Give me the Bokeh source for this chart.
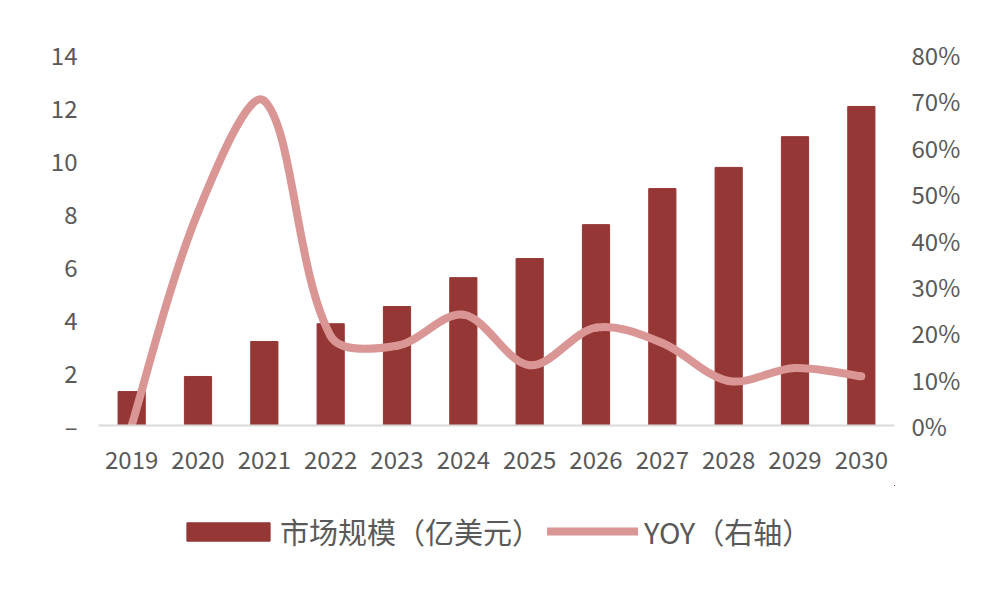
import math
from bokeh.plotting import figure
from bokeh.layouts import column
from bokeh.models import (Range1d, LinearAxis, FixedTicker, Legend, LegendItem,
                          ColumnDataSource)
from bokeh.embed import file_html
from bokeh.resources import INLINE

years = ["2019", "2020", "2021", "2022", "2023", "2024", "2025", "2026",
         "2027", "2028", "2029", "2030"]
market = [1.28, 1.85, 3.17, 3.84, 4.49, 5.58, 6.30, 7.58, 8.94, 9.74, 10.9, 12.04]
yoy = [0.0, 46.0, 70.0, 19.3, 17.2, 23.9, 13.0, 21.1, 17.8, 9.6, 12.4, 10.6]

left_ticks = [0, 2, 4, 6, 8, 10, 12, 14]
right_ticks = [0, 10, 20, 30, 40, 50, 60, 70, 80]
legend_labels = ["市场规模（亿美元）", "YOY（右轴）"]

BAR = "#953735"
LINE = "#D99694"
TXT = "#595959"
FONT = "Noto Sans CJK SC"

W = 973
H2 = 90                    # legend strip height
H = 575 - H2               # main chart height
BL, BR, BT = 98, 79, 54
BB = H - 425
FW, FH = W - BL - BR, H - BT - BB

xs = list(range(len(years)))

p = figure(width=W, height=H, output_backend="svg", toolbar_location=None,
           x_range=Range1d(-0.5, len(years) - 0.5), y_range=Range1d(0, 14),
           min_border_left=BL, min_border_right=BR, min_border_top=BT,
           min_border_bottom=BB)
p.outline_line_color = None
p.grid.visible = False
p.background_fill_color = "white"
p.border_fill_color = "white"
p.extra_y_ranges = {"pct": Range1d(0, 80)}

bar_style = dict(fill_color=BAR, line_color=BAR)
line_style = dict(line_color=LINE, line_width=8, line_cap="round")

p.vbar(x=xs, top=market, width=0.41, **bar_style)

# smoothed YOY line: cubic Bezier segments through the data points,
# tangents weighted by neighbouring chord lengths (spreadsheet-style smoothing)
sx = FW / len(years)
sy = FH / 80.0
n = len(yoy)
P = [(xs[i] * sx, yoy[i] * sy) for i in range(n)]

def dist(a, b):
    return math.hypot(a[0] - b[0], a[1] - b[1])

ctrl_in, ctrl_out = [], []
for i in range(n):
    a = P[i - 1] if i > 0 else P[i]
    b = P[i + 1] if i < n - 1 else P[i]
    d = (b[0] - a[0], b[1] - a[1])
    lp = dist(a, P[i]) if i > 0 else None
    ln = dist(P[i], b) if i < n - 1 else None
    if lp is None:
        lp = ln
    if ln is None:
        ln = lp
    s = lp + ln
    fo = (1 / 3.0) * ln / s
    fi = (1 / 3.0) * lp / s
    ctrl_out.append((P[i][0] + d[0] * fo, P[i][1] + d[1] * fo))
    ctrl_in.append((P[i][0] - d[0] * fi, P[i][1] - d[1] * fi))

seg = dict(x0=[], y0=[], x1=[], y1=[], cx0=[], cy0=[], cx1=[], cy1=[])
for i in range(n - 1):
    seg["x0"].append(xs[i]); seg["y0"].append(yoy[i])
    seg["x1"].append(xs[i + 1]); seg["y1"].append(yoy[i + 1])
    seg["cx0"].append(ctrl_out[i][0] / sx); seg["cy0"].append(ctrl_out[i][1] / sy)
    seg["cx1"].append(ctrl_in[i + 1][0] / sx); seg["cy1"].append(ctrl_in[i + 1][1] / sy)
src = ColumnDataSource(seg)
p.bezier(x0="x0", y0="y0", x1="x1", y1="y1", cx0="cx0", cy0="cy0",
         cx1="cx1", cy1="cy1", source=src, y_range_name="pct", **line_style)

# axes
p.xaxis.ticker = FixedTicker(ticks=xs)
p.xaxis.major_label_overrides = {i: y for i, y in enumerate(years)}
p.xaxis.axis_line_color = "#D9D9D9"
p.xaxis.axis_line_width = 2
p.xaxis.major_tick_line_color = None
p.xaxis.major_tick_out = 0
p.xaxis.minor_tick_line_color = None
p.xaxis.major_label_standoff = 25
p.xaxis.major_label_text_font = FONT
p.xaxis.major_label_text_font_size = "24px"
p.xaxis.major_label_text_color = TXT

p.yaxis.ticker = FixedTicker(ticks=left_ticks)
p.yaxis.major_label_overrides = {0: "–"}
p.yaxis.axis_line_color = None
p.yaxis.major_tick_line_color = None
p.yaxis.major_tick_out = 0
p.yaxis.minor_tick_line_color = None
p.yaxis.major_label_standoff = 21
p.yaxis.major_label_text_font = FONT
p.yaxis.major_label_text_font_size = "24px"
p.yaxis.major_label_text_color = TXT

ra = LinearAxis(y_range_name="pct", ticker=FixedTicker(ticks=right_ticks))
ra.major_label_overrides = {v: f"{v}%" for v in right_ticks}
ra.axis_line_color = None
ra.major_tick_line_color = None
ra.major_tick_out = 0
ra.minor_tick_line_color = None
ra.major_label_standoff = 17
ra.major_label_text_font = FONT
ra.major_label_text_font_size = "24px"
ra.major_label_text_color = TXT
p.add_layout(ra, "right")

# legend strip (separate figure below the chart); its renderers carry the same
# series but lie far outside this strip's visible ranges, so only the legend shows
p2 = figure(width=W, height=H2, output_backend="svg", toolbar_location=None,
            x_axis_type=None, y_axis_type=None,
            x_range=Range1d(-1000, -999), y_range=Range1d(-1000, -999),
            min_border=0, min_border_left=0, min_border_right=0,
            min_border_top=0, min_border_bottom=0)
p2.outline_line_color = None
p2.grid.visible = False
p2.background_fill_color = "white"
p2.border_fill_color = "white"
lb = p2.vbar(x=xs, top=market, width=0.41, **bar_style)
ll = p2.line(x=xs, y=yoy, **line_style)

common = dict(orientation="horizontal", label_height=30, padding=0, margin=0,
              spacing=0, border_line_color=None, background_fill_alpha=0,
              label_text_font=FONT, label_text_font_size="29px",
              label_text_color=TXT)
leg_a = Legend(items=[LegendItem(label=legend_labels[0], renderers=[lb])],
               location=(78, 23), glyph_width=104, glyph_height=23,
               label_standoff=0, **common)
leg_b = Legend(items=[LegendItem(label=legend_labels[1], renderers=[ll])],
               location=(449, 23), glyph_width=91, glyph_height=18,
               label_standoff=6, **common)
p2.add_layout(leg_a, "center")
p2.add_layout(leg_b, "center")

layout = column(p, p2, spacing=0)
open("out.html", "w").write(file_html(layout, INLINE))
